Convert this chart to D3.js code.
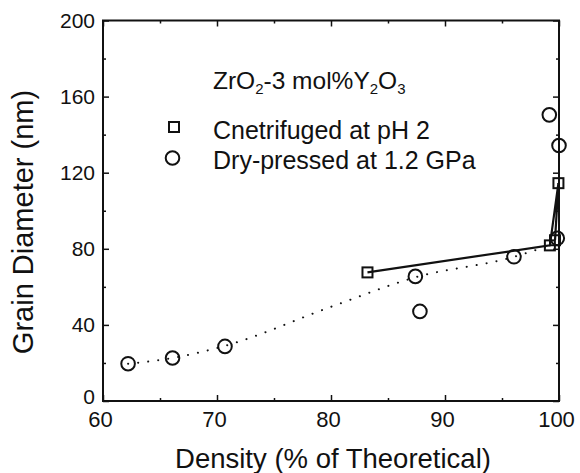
<!DOCTYPE html>
<html>
<head>
<meta charset="utf-8">
<script src="https://cdn.jsdelivr.net/npm/d3@7"></script>
<style>
  html, body { margin: 0; padding: 0; background: #fff; }
  text { font-family: "Liberation Sans", Arial, Helvetica, sans-serif; fill: #111; }
</style>
</head>
<body>
<svg id="chart" width="580" height="473"></svg>
<script>
// ---- data ----
const xTicks = [60, 70, 80, 90, 100];
const xMinorTicks = [65, 75, 85, 95];
const yTicks = [0, 40, 80, 120, 160, 200];
const yMinorTicks = [20, 60, 100, 140, 180];

// Centrifuged at pH 2 (squares, solid line)
const centX = [83.2, 99.2, 99.95, 99.65];
const centY = [67.6, 81.8, 114.5, 84.5];

// Dry-pressed at 1.2 GPa (circles)
const dryX = [62.2, 66.1, 70.7, 87.4, 87.8, 96.05, 99.15, 100.0, 99.85];
const dryY = [19.6, 22.6, 28.7, 65.5, 47.1, 75.8, 150.4, 134.3, 85.5];

// dotted guide line
const guideX = [62.2, 66.1, 70.7, 80.0, 87.4, 96.05, 99.2];
const guideY = [19.6, 22.6, 29.0, 49.5, 65.0, 75.8, 81.8];

const xTitle = "Density (% of Theoretical)";
const yTitle = "Grain Diameter (nm)";
const legendLabels = ["Cnetrifuged at pH 2", "Dry-pressed at 1.2 GPa"];

// ---- chart ----
const svg = d3.select("#chart");
const L = 103, R = 559, T = 20.5, B = 401;
const x = d3.scaleLinear().domain([60, 100]).range([L, R]);
const y = d3.scaleLinear().domain([0, 200]).range([B, T]);

// frame
svg.append("rect").attr("x", L).attr("y", T).attr("width", R - L).attr("height", B - T)
  .attr("fill", "none").attr("stroke", "#111").attr("stroke-width", 2);

function styleAxis(g) {
  g.select(".domain").remove();
  g.selectAll(".tick line").attr("stroke", "#111").attr("stroke-width", 1.5);
}

// bottom axis with labels
svg.append("g").attr("transform", `translate(0,${B})`)
  .call(d3.axisBottom(x).tickValues(xTicks).tickSize(-6).tickPadding(10).tickFormat(d3.format("d")))
  .call(styleAxis)
  .call(g => g.selectAll("text").attr("font-size", 22).attr("dx", -3).attr("fill", "#111"));
svg.append("g").attr("transform", `translate(0,${B})`)
  .call(d3.axisBottom(x).tickValues(xMinorTicks).tickSize(-3).tickFormat(""))
  .call(styleAxis);
// top axis
svg.append("g").attr("transform", `translate(0,${T})`)
  .call(d3.axisTop(x).tickValues(xTicks).tickSize(-6).tickFormat(""))
  .call(styleAxis);
svg.append("g").attr("transform", `translate(0,${T})`)
  .call(d3.axisTop(x).tickValues(xMinorTicks).tickSize(-3).tickFormat(""))
  .call(styleAxis);
// left axis with labels
svg.append("g").attr("transform", `translate(${L},0)`)
  .call(d3.axisLeft(y).tickValues(yTicks).tickSize(-6).tickPadding(8).tickFormat(d3.format("d")))
  .call(styleAxis)
  .call(g => g.selectAll("text").attr("font-size", 21).attr("fill", "#111")
    .attr("dy", d => d === 0 ? "0.1em" : "0.32em"));
svg.append("g").attr("transform", `translate(${L},0)`)
  .call(d3.axisLeft(y).tickValues(yMinorTicks).tickSize(-3).tickFormat(""))
  .call(styleAxis);
// right axis
svg.append("g").attr("transform", `translate(${R},0)`)
  .call(d3.axisRight(y).tickValues(yTicks).tickSize(-6).tickFormat(""))
  .call(styleAxis);
svg.append("g").attr("transform", `translate(${R},0)`)
  .call(d3.axisRight(y).tickValues(yMinorTicks).tickSize(-3).tickFormat(""))
  .call(styleAxis);

// axis titles
svg.append("text").attr("x", (L + R) / 2 + 2).attr("y", 468)
  .attr("text-anchor", "middle").attr("font-size", 27.5).text(xTitle);
svg.append("text").attr("transform", `translate(33,${222}) rotate(-90)`)
  .attr("text-anchor", "middle").attr("font-size", 29).text(yTitle);

// dotted guide line
const guide = guideX.map((v, i) => [v, guideY[i]]);
svg.append("path").datum(guide)
  .attr("d", d3.line().x(d => x(d[0])).y(d => y(d[1])).curve(d3.curveMonotoneX))
  .attr("fill", "none").attr("stroke", "#111").attr("stroke-width", 2)
  .attr("stroke-linecap", "round").attr("stroke-dasharray", "0.1 10");

// solid line through squares
const cent = centX.map((v, i) => [v, centY[i]]);
svg.append("path").datum(cent)
  .attr("d", d3.line().x(d => x(d[0])).y(d => y(d[1])))
  .attr("fill", "none").attr("stroke", "#111").attr("stroke-width", 2.2);

// squares
const sq = 10;
svg.append("g").selectAll("rect").data(cent).join("rect")
  .attr("x", d => x(d[0]) - sq / 2).attr("y", d => y(d[1]) - sq / 2)
  .attr("width", sq).attr("height", sq)
  .attr("fill", "none").attr("stroke", "#111").attr("stroke-width", 2);

// circles
const dry = dryX.map((v, i) => [v, dryY[i]]);
svg.append("g").selectAll("circle").data(dry).join("circle")
  .attr("cx", d => x(d[0])).attr("cy", d => y(d[1])).attr("r", 6.8)
  .attr("fill", "none").attr("stroke", "#111").attr("stroke-width", 2);

// legend / annotation
const title = svg.append("text").attr("x", 213).attr("y", 89).attr("font-size", 24.5);
title.append("tspan").text("ZrO");
title.append("tspan").attr("font-size", 15).attr("dy", 5).text("2");
title.append("tspan").attr("dy", -5).text("-3 mol%Y");
title.append("tspan").attr("font-size", 15).attr("dy", 5).text("2");
title.append("tspan").attr("dy", -5).text("O");
title.append("tspan").attr("font-size", 15).attr("dy", 5).text("3");

svg.append("rect").attr("x", 174 - 5).attr("y", 127 - 5).attr("width", 10).attr("height", 10)
  .attr("fill", "none").attr("stroke", "#111").attr("stroke-width", 2);
svg.append("circle").attr("cx", 172.5).attr("cy", 158).attr("r", 6.8)
  .attr("fill", "none").attr("stroke", "#111").attr("stroke-width", 2);
svg.append("text").attr("x", 213).attr("y", 139).attr("font-size", 25).text(legendLabels[0]);
svg.append("text").attr("x", 213).attr("y", 169).attr("font-size", 25).text(legendLabels[1]);
</script>
</body>
</html>
